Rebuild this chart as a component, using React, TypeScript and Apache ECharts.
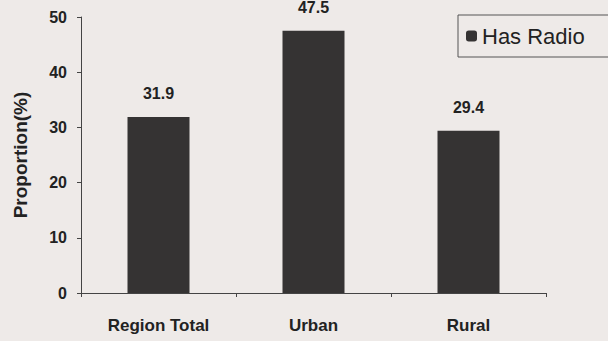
import React, { useEffect, useRef } from "react";
import * as echarts from "echarts";

const categories = ["Region Total", "Urban", "Rural"];
const hasRadio = [31.9, 47.5, 29.4];
const seriesName = "Has Radio";
const yMin = 0;
const yMax = 50;
const yInterval = 10;

export default function App() {
  const ref = useRef<HTMLDivElement>(null);
  useEffect(() => {
    if (!ref.current) return;
    const chart = echarts.init(ref.current, null, { renderer: "svg" });
    const font = "Liberation Sans, Arial, sans-serif";
    chart.setOption({
      animation: false,
      backgroundColor: "#eeeae8",
      textStyle: { fontFamily: font },
      grid: { left: 81, right: 62, top: 17, bottom: 48 },
      legend: {
        data: [seriesName],
        left: 458,
        top: 15,
        padding: [10, 40, 10, 8],
        itemWidth: 11,
        itemHeight: 11,
        itemGap: 6,
        borderColor: "#555",
        borderWidth: 1,
        textStyle: { fontSize: 22, color: "#222", fontFamily: font },
      },
      xAxis: {
        type: "category",
        data: categories,
        axisLine: { show: true, lineStyle: { color: "#444", width: 1 } },
        axisTick: { show: true, alignWithLabel: false, length: 4, lineStyle: { color: "#444" } },
        axisLabel: { margin: 24, fontSize: 17, fontWeight: "bold", color: "#222", fontFamily: font },
        splitLine: { show: false },
      },
      yAxis: {
        type: "value",
        min: yMin,
        max: yMax,
        interval: yInterval,
        name: "Proportion(%)",
        nameLocation: "middle",
        nameGap: 51,
        nameTextStyle: { fontSize: 19, fontWeight: "bold", color: "#222", fontFamily: font },
        axisLine: { show: true, lineStyle: { color: "#444", width: 1 } },
        axisTick: { show: true, length: 4, lineStyle: { color: "#444" } },
        axisLabel: { margin: 14, fontSize: 16, fontWeight: "bold", color: "#222", fontFamily: font },
        splitLine: { show: false },
      },
      series: [
        {
          name: seriesName,
          type: "bar",
          data: hasRadio,
          barWidth: "40%",
          itemStyle: { color: "#353333" },
          label: {
            show: true,
            position: "top",
            distance: 15,
            fontSize: 16,
            fontWeight: "bold",
            color: "#222",
            fontFamily: font,
          },
        },
      ],
    });
    return () => chart.dispose();
  }, []);
  return <div ref={ref} style={{ width: 608, height: 341, position: "absolute", left: 0, top: 0 }} />;
}
